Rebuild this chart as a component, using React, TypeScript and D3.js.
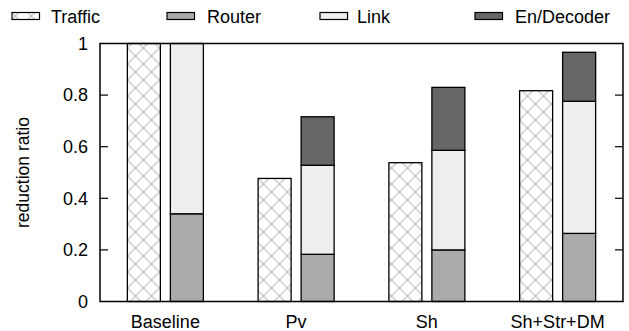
import { useEffect, useRef } from 'react';
import * as d3 from 'd3';

const groups = ["Baseline", "Pv", "Sh", "Sh+Str+DM"];
const traffic = [1.0, 0.477, 0.538, 0.817];
const router = [0.34, 0.183, 0.2, 0.264];
const link = [0.66, 0.345, 0.386, 0.512];
const encoder = [0, 0.188, 0.244, 0.19];
const yTicks = [0, 0.2, 0.4, 0.6, 0.8, 1];

const legendItems = [
  { name: "Traffic", fill: "url(#xhatch)" },
  { name: "Router", fill: "#aaaaaa" },
  { name: "Link", fill: "#eeeeee" },
  { name: "En/Decoder", fill: "#666666" },
];

const App = () => {
  const svgRef = useRef<SVGSVGElement | null>(null);

  useEffect(() => {
    const width = 629;
    const height = 331;
    const margin = { top: 43.5, right: 6, bottom: 29.5, left: 100 };
    const font = "'Liberation Sans', Arial, sans-serif";

    const svg = d3.select(svgRef.current);
    svg.selectAll("*").remove();
    svg.attr("width", width).attr("height", height).style("font-family", font);

    // crosshatch for the traffic bars
    const pat = svg.append("defs").append("pattern")
      .attr("id", "xhatch")
      .attr("patternUnits", "userSpaceOnUse")
      .attr("width", 16)
      .attr("height", 16)
      .attr("x", 127.4)
      .attr("y", 0);
    pat.append("rect").attr("width", 16).attr("height", 16).attr("fill", "#fff");
    pat.append("path")
      .attr("d", "M0,0L16,16M16,0L0,16")
      .attr("stroke", "#bbbbbb")
      .attr("stroke-width", 1.1);

    const x0 = d3.scaleBand<string>()
      .domain(groups)
      .range([margin.left, width - margin.right]);

    const y = d3.scaleLinear()
      .domain([0, 1])
      .range([height - margin.bottom, margin.top]);

    const barPair = 76;
    const x1 = d3.scaleBand<string>()
      .domain(["traffic", "stack"])
      .range([(x0.bandwidth() - barPair) / 2, (x0.bandwidth() + barPair) / 2])
      .paddingInner(10 / 43);

    const g = svg.append("g");

    groups.forEach((grp, i) => {
      const gx = x0(grp)!;
      // traffic bar
      g.append("rect")
        .attr("x", gx + x1("traffic")!)
        .attr("y", y(traffic[i]))
        .attr("width", x1.bandwidth())
        .attr("height", y(0) - y(traffic[i]))
        .attr("fill", "url(#xhatch)")
        .attr("stroke", "#000")
        .attr("stroke-width", 1.3);

      // stacked bar
      const parts = [
        { v: router[i], fill: "#aaaaaa" },
        { v: link[i], fill: "#eeeeee" },
        { v: encoder[i], fill: "#666666" },
      ];
      let acc = 0;
      parts.forEach(p => {
        if (p.v <= 0) return;
        g.append("rect")
          .attr("x", gx + x1("stack")!)
          .attr("y", y(acc + p.v))
          .attr("width", x1.bandwidth())
          .attr("height", y(acc) - y(acc + p.v))
          .attr("fill", p.fill)
          .attr("stroke", "#000")
          .attr("stroke-width", 1.3);
        acc += p.v;
      });
    });

    // frame
    svg.append("rect")
      .attr("x", margin.left)
      .attr("y", margin.top)
      .attr("width", width - margin.right - margin.left)
      .attr("height", y(0) - margin.top)
      .attr("fill", "none")
      .attr("stroke", "#000")
      .attr("stroke-width", 1.5);

    // y ticks, mirrored on the right
    const ticks = svg.append("g");
    yTicks.forEach(t => {
      if (t > 0 && t < 1) {
        ticks.append("line")
          .attr("x1", margin.left).attr("x2", margin.left + 8)
          .attr("y1", y(t)).attr("y2", y(t))
          .attr("stroke", "#000").attr("stroke-width", 1.2);
        ticks.append("line")
          .attr("x1", width - margin.right).attr("x2", width - margin.right - 8)
          .attr("y1", y(t)).attr("y2", y(t))
          .attr("stroke", "#000").attr("stroke-width", 1.2);
      }
      ticks.append("text")
        .attr("x", 88)
        .attr("y", y(t))
        .attr("dy", "0.35em")
        .attr("text-anchor", "end")
        .style("font-size", "18px")
        .text(d3.format("~g")(t));
    });

    // x labels
    groups.forEach(grp => {
      svg.append("text")
        .attr("x", x0(grp)! + x0.bandwidth() / 2)
        .attr("y", 327.5)
        .attr("text-anchor", "middle")
        .style("font-size", "18px")
        .text(grp);
    });

    // y axis title
    svg.append("text")
      .attr("transform", `translate(29,${(margin.top + y(0)) / 2}) rotate(-90)`)
      .attr("text-anchor", "middle")
      .style("font-size", "17.5px")
      .text("reduction ratio");

    // legend
    const swatchX = [12, 167, 320, 475];
    const labelX = [51, 207, 357, 515];
    legendItems.forEach((item, i) => {
      svg.append("rect")
        .attr("x", swatchX[i])
        .attr("y", 12.5)
        .attr("width", 27.5)
        .attr("height", 7)
        .attr("fill", item.fill)
        .attr("stroke", "#000")
        .attr("stroke-width", 1.2);
      svg.append("text")
        .attr("x", labelX[i])
        .attr("y", 22.5)
        .style("font-size", "18px")
        .text(item.name);
    });
  }, []);

  return (
    <div style={{ position: "absolute", left: 0, top: 0 }}>
      <svg ref={svgRef} />
    </div>
  );
};

export default App;
